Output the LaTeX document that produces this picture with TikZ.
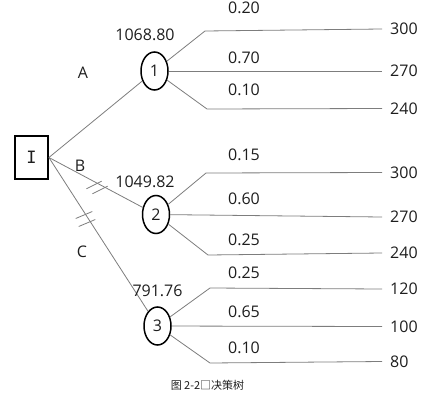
\documentclass[tikz,border=0pt]{standalone}
\usepackage{fontspec}
\setmainfont{Open Sans}
\newfontfamily\cjk{Noto Sans CJK SC}
\newfontfamily\monoI{DejaVu Sans Mono}
\usetikzlibrary{shapes.geometric}
\definecolor{edgegray}{RGB}{125,125,125}
\definecolor{txt}{RGB}{30,30,30}
\tikzset{
  chance/.style={ellipse, draw=black, line width=1.5pt, minimum width=27pt, minimum height=38pt, inner sep=0pt, font=\fontsize{16}{18}\selectfont, text=txt},
  decbox/.style={rectangle, draw=black, line width=1.8pt, minimum width=33pt, minimum height=43pt, inner sep=0pt, font=\monoI\fontsize{17}{19}\selectfont, text=txt},
  lbl/.style={inner sep=0pt, font=\fontsize{16}{18}\selectfont, text=txt},
  leaf/.style={anchor=west, inner xsep=8pt, inner ysep=0pt, font=\fontsize{16}{18}\selectfont, text=txt},
  edge/.style={draw=edgegray, line width=0.8pt},
  slash/.style={draw=edgegray, line width=0.8pt}
}
\begin{document}
\begin{tikzpicture}[x=1pt,y=-1pt]
\useasboundingbox (0,0) rectangle (430,404);
% decision node
\node[decbox] (I) at (31.5,157.5) {I};
% chance nodes
\node[chance] (n1) at (154.5,71) {1};
\node[chance] (n2) at (156,214.5) {2};
\node[chance] (n3) at (157.5,326) {3};
% main branches
\draw[edge] (I.east) -- (n1);
\draw[edge] (I.east) -- (n2);
\draw[edge] (I.east) -- (n3);
\node[lbl] (lA) at (83,73) {A};
\node[lbl] (lB) at (80,166) {B};
\node[lbl] (lC) at (82,252) {C};
% slash marks (pruned branches)
\draw[slash] (86.4,188.8) -- (101.6,181.2);
\draw[slash] (92.4,193.8) -- (107.6,186.2);
\draw[slash] (75.7,218.5) -- (92.3,211.5);
\draw[slash] (78.7,226.5) -- (95.3,219.5);
% expected values
\node[lbl] (v1) at (145,35) {1068.80};
\node[lbl] (v2) at (145,182) {1049.82};
\node[lbl] (v3) at (157.5,291) {791.76};
% knees
\coordinate (k1a) at (205,31);
\coordinate (k1c) at (207,109);
\coordinate (k2a) at (206,173);
\coordinate (k2c) at (208,255);
\coordinate (k3a) at (210,288);
\coordinate (k3c) at (210,363);
% leaves
\node[leaf] (L1a) at (382,29) {300};
\node[leaf] (L1b) at (382,71) {270};
\node[leaf] (L1c) at (382,108.5) {240};
\node[leaf] (L2a) at (382,172.5) {300};
\node[leaf] (L2b) at (382,217) {270};
\node[leaf] (L2c) at (382,253) {240};
\node[leaf] (L3a) at (382,289) {120};
\node[leaf] (L3b) at (382,326.5) {100};
\node[leaf] (L3c) at (382,361.5) {80};
% outcome branches
\draw[edge] (n1) -- (k1a) -- (L1a.west);
\draw[edge] (n1) -- (L1b.west);
\draw[edge] (n1) -- (k1c) -- (L1c.west);
\draw[edge] (n2) -- (k2a) -- (L2a.west);
\draw[edge] (n2) -- (L2b.west);
\draw[edge] (n2) -- (k2c) -- (L2c.west);
\draw[edge] (n3) -- (k3a) -- (L3a.west);
\draw[edge] (n3) -- (L3b.west);
\draw[edge] (n3) -- (k3c) -- (L3c.west);
% probabilities
\node[lbl] (p1a) at (244,8) {0.20};
\node[lbl] (p1b) at (244,58) {0.70};
\node[lbl] (p1c) at (244,90) {0.10};
\node[lbl] (p2a) at (244,155) {0.15};
\node[lbl] (p2b) at (244,199) {0.60};
\node[lbl] (p2c) at (244,240) {0.25};
\node[lbl] (p3a) at (244,273) {0.25};
\node[lbl] (p3b) at (244,312) {0.65};
\node[lbl] (p3c) at (244,348) {0.10};
% caption
\node[inner sep=0pt, font=\cjk\fontsize{11}{13}\selectfont, text=txt] (cap) at (207.5,385) {图 2-2□决策树};
\end{tikzpicture}
\end{document}
